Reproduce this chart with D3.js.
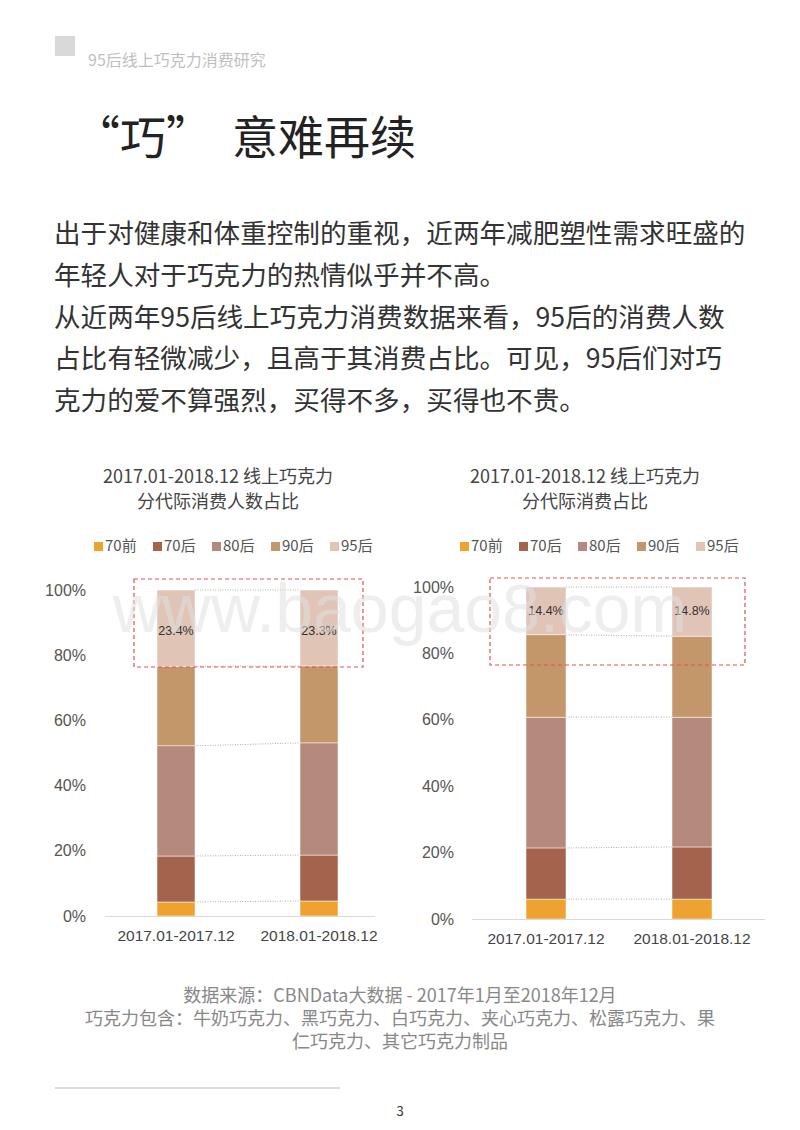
<!DOCTYPE html>
<html><head><meta charset="utf-8">
<script src="https://cdn.jsdelivr.net/npm/d3@7"></script>
<style>body{margin:0;background:#fff}svg{display:block;font-family:"Noto Sans CJK SC","Noto Sans",sans-serif}</style>
</head><body><svg id="page" width="800" height="1130"></svg>
<script>
const generations = ['70前', '70后', '80后', '90后', '95后']
const colors = ['#eea331', '#a4634c', '#b5897c', '#c4976b', '#e0c4b6']
const periods = ['2017.01-2017.12', '2018.01-2018.12']
// percentages, bottom to top
const usersShare = [[4.3, 14.1, 33.8, 24.4, 23.4], [4.6, 14.1, 34.4, 23.6, 23.3]]
const spendShare = [[6.0, 15.4, 39.4, 24.8, 14.4], [6.0, 15.7, 39.1, 24.4, 14.8]]
const yTicks = [0, 20, 40, 60, 80, 100]
const bodyLines = ['出于对健康和体重控制的重视，近两年减肥塑性需求旺盛的', '年轻人对于巧克力的热情似乎并不高。',
  '从近两年95后线上巧克力消费数据来看，95后的消费人数', '占比有轻微减少，且高于其消费占比。可见，95后们对巧',
  '克力的爱不算强烈，买得不多，买得也不贵。']

const svg = d3.select('#page')

svg.append('rect').attr('x', 55).attr('y', 36).attr('width', 20).attr('height', 20).attr('fill', '#d9d9d9')
svg.append('text').attr('x', 88).attr('y', 66).attr('font-size', 16).attr('fill', '#bfbfbf').text('95后线上巧克力消费研究')
svg.append('text').attr('x', 74).attr('y', 154).attr('font-size', 46).attr('fill', '#222').text('“巧”')
svg.append('text').attr('x', 232).attr('y', 154).attr('font-size', 46).attr('fill', '#222').text('意难再续')

svg.selectAll('.body').data(bodyLines).join('text')
  .attr('x', 54).attr('y', (d, i) => 243 + i * 41.8).attr('font-size', 26.6).attr('fill', '#333').text(d => d)

function drawChart(cfg) {
  const g = svg.append('g')
  const y = d3.scaleLinear().domain([0, 100]).range([cfg.y0, cfg.y100])
  const x = d3.scalePoint().domain(periods).range(cfg.centers)
  const bw = cfg.bw

  cfg.title.forEach((t, i) => g.append('text').attr('x', cfg.cx).attr('y', 483 + i * 25)
    .attr('text-anchor', 'middle').attr('font-size', 18).attr('fill', '#444').text(t))

  const leg = g.selectAll('.leg').data(generations).join('g')
    .attr('transform', (d, i) => `translate(${cfg.legX + i * 59},551)`)
  leg.append('rect').attr('x', 0).attr('y', -9).attr('width', 9).attr('height', 9).attr('fill', (d, i) => colors[i])
  leg.append('text').attr('x', 11).attr('y', 0).attr('font-size', 15).attr('fill', '#555').text(d => d)

  g.append('g').attr('transform', `translate(${cfg.tickX},0)`)
    .call(d3.axisLeft(y).tickValues(yTicks).tickFormat(d => d + '%').tickSize(0).tickPadding(0))
    .call(a => a.select('.domain').remove())
    .call(a => a.selectAll('text').attr('font-size', 16).attr('fill', '#555').attr('font-family', 'Liberation Sans, Arial'))

  const stacks = cfg.data.map(vals => {
    let acc = 0
    return vals.map((v, i) => { const s = { i, v, y0: acc, y1: acc + v }; acc += v; return s })
  })

  // dotted connectors
  generations.forEach((_, i) => {
    g.append('line')
      .attr('x1', x(periods[0]) + bw / 2).attr('x2', x(periods[1]) - bw / 2)
      .attr('y1', y(stacks[0][i].y1)).attr('y2', y(stacks[1][i].y1))
      .attr('stroke', '#999').attr('stroke-width', 0.8).attr('stroke-dasharray', '1,1.5')
  })

  stacks.forEach((st, k) => {
    const cx = x(periods[k])
    g.selectAll('.seg' + k).data(st).join('rect')
      .attr('x', cx - bw / 2).attr('width', bw)
      .attr('y', d => y(d.y1)).attr('height', d => y(d.y0) - y(d.y1))
      .attr('fill', d => colors[d.i]).attr('stroke', '#fff').attr('stroke-width', 0.5)
    const top = st[4]
    g.append('text').attr('x', cx).attr('y', cfg.labelY)
      .attr('text-anchor', 'middle').attr('font-size', 12.5).attr('fill', '#333')
      .attr('font-family', 'Liberation Sans, Arial').text(top.v.toFixed(1) + '%')
    g.append('text').attr('x', cx).attr('y', cfg.y0 + 25)
      .attr('text-anchor', 'middle').attr('font-size', 15.5).attr('fill', '#444')
      .attr('font-family', 'Liberation Sans, Arial').text(periods[k])
  })

  g.append('line').attr('x1', cfg.xl).attr('x2', cfg.xr).attr('y1', cfg.y0 + 0.5).attr('y2', cfg.y0 + 0.5)
    .attr('stroke', '#d9d9d9').attr('stroke-width', 1)

  g.append('rect').attr('x', cfg.box[0]).attr('y', cfg.box[1]).attr('width', cfg.box[2]).attr('height', cfg.box[3])
    .attr('fill', 'none').attr('stroke', '#e05050').attr('stroke-width', 1.2).attr('stroke-dasharray', '4,3')
}

drawChart({ data: usersShare, title: ['2017.01-2018.12 线上巧克力', '分代际消费人数占比'], cx: 218, legX: 94,
  xl: 105, xr: 375, tickX: 86, centers: [176, 319], bw: 38, y0: 916, y100: 590, labelY: 635, box: [134, 579, 229, 88] })
drawChart({ data: spendShare, title: ['2017.01-2018.12 线上巧克力', '分代际消费占比'], cx: 585, legX: 460,
  xl: 472, xr: 765, tickX: 454, centers: [546, 692], bw: 40, y0: 919, y100: 587, labelY: 615, box: [490, 578, 255, 87] })

svg.append('text').attr('x', 400).attr('y', 632).attr('text-anchor', 'middle').attr('font-size', 68)
  .attr('font-family', 'Liberation Sans, Arial').attr('fill', '#e0e0e0').attr('fill-opacity', 0.55).text('www.baogao8.com')

const source = ['数据来源：CBNData大数据 - 2017年1月至2018年12月', '巧克力包含：牛奶巧克力、黑巧克力、白巧克力、夹心巧克力、松露巧克力、果', '仁巧克力、其它巧克力制品']
svg.selectAll('.src').data(source).join('text').attr('x', 400).attr('y', (d, i) => 1002 + i * 23)
  .attr('text-anchor', 'middle').attr('font-size', 18).attr('fill', '#888').text(d => d)

svg.append('line').attr('x1', 55).attr('x2', 340).attr('y1', 1088).attr('y2', 1088).attr('stroke', '#bbb')
svg.append('text').attr('x', 400).attr('y', 1116).attr('text-anchor', 'middle').attr('font-size', 13).attr('fill', '#333').text('3')
</script></body></html>
